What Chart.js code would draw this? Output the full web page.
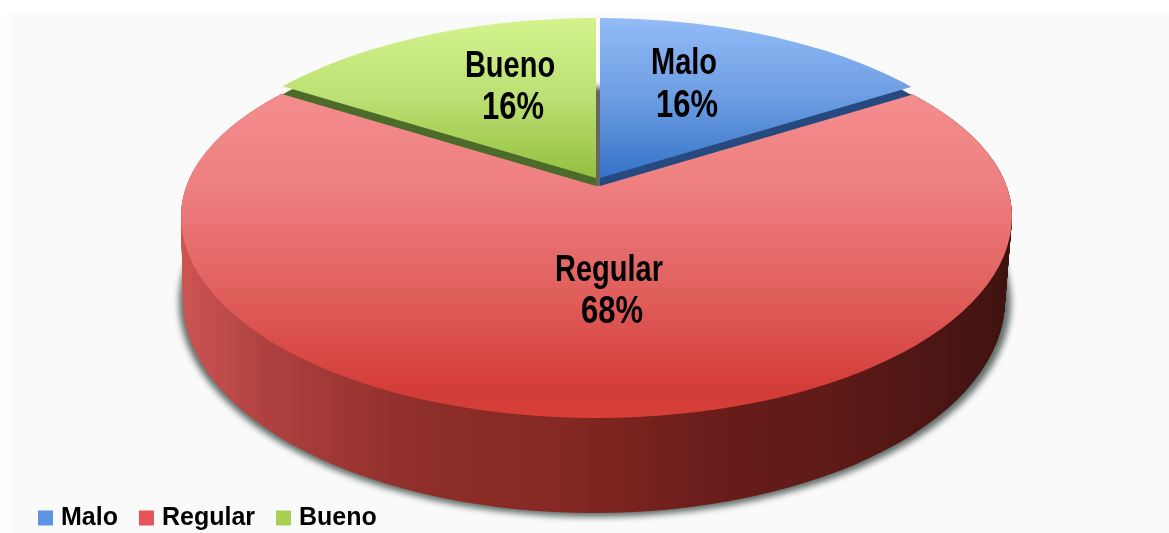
<!DOCTYPE html>
<html><head><meta charset="utf-8">
<style>html,body{margin:0;padding:0;background:#fff}canvas{display:block}</style>
<script src="https://cdn.jsdelivr.net/npm/chart.js@4/dist/chart.umd.min.js"></script>
</head><body>
<canvas id="c" width="1169" height="533"></canvas>
<script>
const categories = ['Malo', 'Regular', 'Bueno'];
const seriesValues = [16, 68, 16];
const legendColors = ['#5c94e2', '#e4545a', '#a9cf55'];

const FONT = '"Liberation Sans", Arial, sans-serif';
const cxTop = 596.5, cyTop = 216, rxTop = 415.5;
const ryUpRed = 187, ryUpSlice = 198, ryDown = 202;
const linA = 373 * 1.6, linD = 172 * 1.6;   // projection of the pie circle onto the tilted plane
const labelPos = [
  {x: 684, yName: 64, yPct: 106},
  {x: 609, yName: 271, yPct: 312},
  {x: 510, yName: 67, yPct: 108}
];

function halfEllipses(ctx, cx, cy, rx, ryU, ryD) {
  ctx.beginPath();
  ctx.ellipse(cx, cy, rx, ryU, 0, Math.PI, 2 * Math.PI);
  ctx.ellipse(cx, cy, rx, ryD, 0, 0, Math.PI);
  ctx.closePath();
}
function withFill(arc, fill) {
  const a = Object.create(arc);
  a.options = {backgroundColor: fill, borderColor: 'rgba(0,0,0,0)', borderWidth: 0, borderRadius: 0,
    offset: 0, spacing: 0, circular: true, borderAlign: 'center', borderDash: [], borderDashOffset: 0};
  return a;
}
function project(ctx, arc, ax, ay) {
  const R = arc.outerRadius;
  ctx.translate(ax, ay);
  ctx.scale(linA / R, linD / R);
  ctx.translate(-arc.x, -arc.y);
}
// gradient in screen coordinates, created for the projection at (ax, ay)
function gradV(ctx, arc, ay, y0, y1, stops) {
  const k = arc.outerRadius / linD;
  const g = ctx.createLinearGradient(0, arc.y + (y0 - ay) * k, 0, arc.y + (y1 - ay) * k);
  stops.forEach(s => g.addColorStop(s[0], s[1]));
  return g;
}
function gradH(ctx, arc, ax, x0, x1, stops) {
  const k = arc.outerRadius / linA;
  const g = ctx.createLinearGradient(arc.x + (x0 - ax) * k, 0, arc.x + (x1 - ax) * k, 0);
  stops.forEach(s => g.addColorStop(s[0], s[1]));
  return g;
}
function sliceAt(ctx, arc, ax, ay, clipDy, ryU, fill) {
  ctx.save();
  halfEllipses(ctx, cxTop, cyTop + clipDy, rxTop, ryU, ryDown);
  ctx.clip();
  project(ctx, arc, ax, ay);
  withFill(arc, typeof fill === 'function' ? fill() : fill).draw(ctx);
  ctx.restore();
}

const pie3d = {
  id: 'pie3d',
  afterLayout(chart) {
    chart.legend.left = 17;
    chart.legend.top = 480;
  },
  beforeDraw(chart) {
    const ctx = chart.ctx;
    ctx.save();
    ctx.fillStyle = '#ffffff';
    ctx.fillRect(0, 0, 1169, 533);
    ctx.fillStyle = '#fafafa';
    ctx.filter = 'blur(3px)';
    ctx.fillRect(8, 13, 1200, 560);
    ctx.restore();
  },
  beforeDatasetsDraw(chart) {
    const ctx = chart.ctx;
    const [malo, regular, bueno] = chart.getDatasetMeta(0).data;

    // soft shadow under the base
    ctx.save();
    ctx.filter = 'blur(3px)';
    ctx.fillStyle = 'rgba(70,85,80,0.85)';
    ctx.beginPath();
    ctx.ellipse(595, 302, 416, 215, 0, 0, 2 * Math.PI);
    ctx.fill();
    ctx.restore();

    // side wall: stack of the Regular slice from the base up to the top face
    const steps = 90;
    for (let i = steps; i >= 0; i--) {
      const t = i / steps;
      const cx = cxTop + (594 - cxTop) * t;
      const cy = cyTop + (300 - cyTop) * t;
      const rx = rxTop + (411 - rxTop) * t;
      const ry = ryDown + (213 - ryDown) * t;
      const ay = 186 + (cy - cyTop);
      ctx.save();
      halfEllipses(ctx, cx, cy, rx, ryUpRed, ry);
      ctx.clip();
      project(ctx, regular, 598, ay);
      withFill(regular, gradH(ctx, regular, 598, 180, 1012, [
        [0, '#cd5554'], [0.1, '#af4240'], [0.28, '#8f2e2a'], [0.46, '#852823'],
        [0.63, '#6b1d1b'], [0.8, '#5c1a17'], [1, '#3e1210']])).draw(ctx);
      ctx.restore();
    }

    // Regular top face
    sliceAt(ctx, regular, 598, 186, 0, ryUpRed, () => gradV(ctx, regular, 186, 90, 418, [
      [0, '#f48d8e'], [0.3, '#ee7f80'], [0.62, '#e05f5c'], [0.92, '#d33c38'], [1, '#d83f38']]));

    // grey seam in the lower part of the gap between the slices
    ctx.save();
    ctx.beginPath();
    ctx.rect(590, 0, 14, 190);
    ctx.clip();
    sliceAt(ctx, malo, 596, 186, 0, ryUpSlice, () => gradV(ctx, malo, 186, 0, 186, [
      [0, 'rgba(100,100,100,0)'], [0.48, 'rgba(100,100,100,0)'], [0.49, '#666'], [1, '#666']]));
    ctx.restore();

    // dark rims under the two raised slices
    sliceAt(ctx, malo, 600, 186, 8, ryUpSlice, '#26497f');
    sliceAt(ctx, bueno, 596, 186, 8, ryUpSlice, '#4c6b2a');

    // raised slices
    sliceAt(ctx, malo, 600, 178, 0, ryUpSlice, () => gradV(ctx, malo, 178, 18, 178, [
      [0, '#93bbf7'], [0.5, '#6c9de2'], [1, '#3673c8']]));
    sliceAt(ctx, bueno, 596, 178, 0, ryUpSlice, () => gradV(ctx, bueno, 178, 22, 178, [
      [0, '#d3f28c'], [0.5, '#bbdf72'], [1, '#93c03f']]));

    // data labels
    const total = seriesValues.reduce((a, b) => a + b, 0);
    ctx.save();
    ctx.fillStyle = '#000';
    ctx.textAlign = 'center';
    ctx.textBaseline = 'middle';
    const st = 1.26;
    categories.forEach((name, i) => {
      const p = labelPos[i];
      ctx.save();
      ctx.translate(p.x, p.yName);
      ctx.scale(1, st);
      ctx.font = 'bold 29px ' + FONT;
      ctx.fillText(name, 0, 0);
      ctx.restore();
      ctx.save();
      ctx.translate(p.x + 3, p.yPct);
      ctx.scale(1, st);
      ctx.font = 'bold 31px ' + FONT;
      ctx.fillText(Math.round(seriesValues[i] / total * 100) + '%', 0, 0);
      ctx.restore();
    });
    ctx.restore();
    return false;
  }
};

new Chart(document.getElementById('c'), {
  type: 'pie',
  plugins: [pie3d],
  data: {
    labels: categories,
    datasets: [{data: seriesValues, backgroundColor: legendColors, borderWidth: 0}]
  },
  options: {
    responsive: false,
    animation: false,
    layout: {padding: 0},
    plugins: {
      tooltip: {enabled: false},
      legend: {
        position: 'bottom',
        align: 'start',
        labels: {
          usePointStyle: true,
          pointStyle: 'rect',
          boxWidth: 6,
          boxHeight: 15,
          padding: 25.5,
          color: '#000',
          font: {family: FONT, size: 25, weight: 'bold'}
        }
      }
    }
  }
});
</script>
</body></html>
